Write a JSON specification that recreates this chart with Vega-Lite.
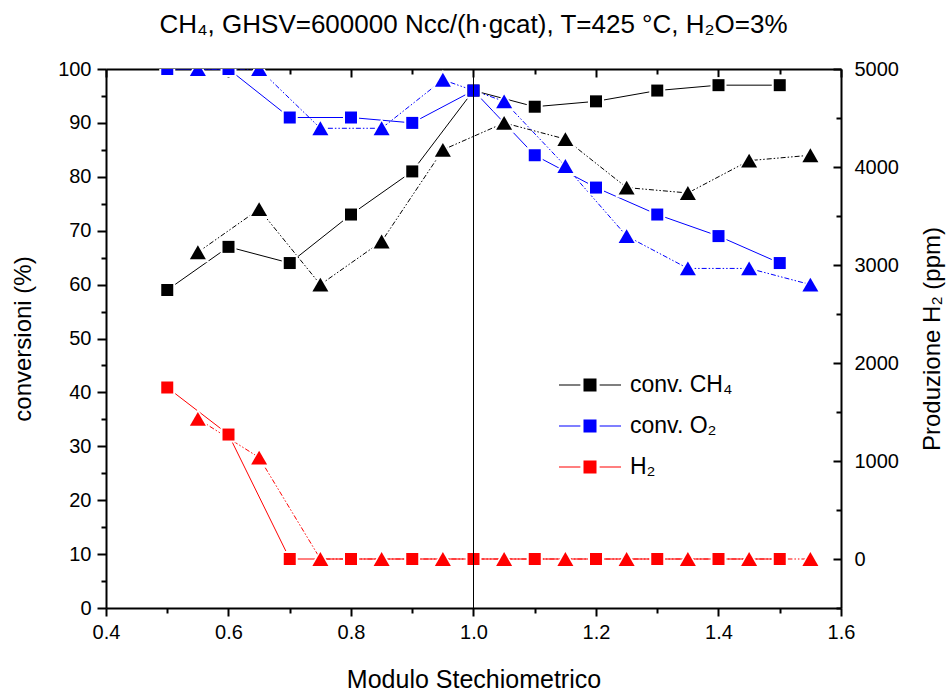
{
  "$schema": "https://vega.github.io/schema/vega-lite/v6.json",
  "width": 735,
  "height": 539,
  "autosize": {"type": "none"},
  "padding": {"left": 106, "top": 69, "right": 106, "bottom": 84},
  "background": "white",
  "title": {
    "text": "CH₄, GHSV=600000 Ncc/(h·gcat), T=425 °C, H₂O=3%",
    "font": "Liberation Sans",
    "fontSize": 26,
    "fontWeight": "normal",
    "color": "black",
    "anchor": "middle",
    "offset": 21
  },
  "config": {
    "view": {"stroke": null},
    "font": "Liberation Sans",
    "axis": {
      "grid": false,
      "domainColor": "black",
      "domainWidth": 2,
      "tickColor": "black",
      "tickWidth": 2,
      "labelColor": "black",
      "titleColor": "black",
      "labelFont": "Liberation Sans",
      "titleFont": "Liberation Sans",
      "labelFontSize": 20,
      "titleFontSize": 24,
      "titleFontWeight": "normal"
    }
  },
  "data": {
    "values": [
      {"serie": "conv. CH₄", "simbolo": "quadrato", "ms": 0.5, "valore": 59},
      {"serie": "conv. CH₄", "simbolo": "quadrato", "ms": 0.6, "valore": 67},
      {"serie": "conv. CH₄", "simbolo": "quadrato", "ms": 0.7, "valore": 64},
      {"serie": "conv. CH₄", "simbolo": "quadrato", "ms": 0.8, "valore": 73},
      {"serie": "conv. CH₄", "simbolo": "quadrato", "ms": 0.9, "valore": 81},
      {"serie": "conv. CH₄", "simbolo": "quadrato", "ms": 1.0, "valore": 96},
      {"serie": "conv. CH₄", "simbolo": "quadrato", "ms": 1.1, "valore": 93},
      {"serie": "conv. CH₄", "simbolo": "quadrato", "ms": 1.2, "valore": 94},
      {"serie": "conv. CH₄", "simbolo": "quadrato", "ms": 1.3, "valore": 96},
      {"serie": "conv. CH₄", "simbolo": "quadrato", "ms": 1.4, "valore": 97},
      {"serie": "conv. CH₄", "simbolo": "quadrato", "ms": 1.5, "valore": 97},
      {"serie": "conv. CH₄", "simbolo": "triangolo", "ms": 0.55, "valore": 66},
      {"serie": "conv. CH₄", "simbolo": "triangolo", "ms": 0.65, "valore": 74},
      {"serie": "conv. CH₄", "simbolo": "triangolo", "ms": 0.75, "valore": 60},
      {"serie": "conv. CH₄", "simbolo": "triangolo", "ms": 0.85, "valore": 68},
      {"serie": "conv. CH₄", "simbolo": "triangolo", "ms": 0.95, "valore": 85},
      {"serie": "conv. CH₄", "simbolo": "triangolo", "ms": 1.05, "valore": 90},
      {"serie": "conv. CH₄", "simbolo": "triangolo", "ms": 1.15, "valore": 87},
      {"serie": "conv. CH₄", "simbolo": "triangolo", "ms": 1.25, "valore": 78},
      {"serie": "conv. CH₄", "simbolo": "triangolo", "ms": 1.35, "valore": 77},
      {"serie": "conv. CH₄", "simbolo": "triangolo", "ms": 1.45, "valore": 83},
      {"serie": "conv. CH₄", "simbolo": "triangolo", "ms": 1.55, "valore": 84},
      {"serie": "conv. O₂", "simbolo": "quadrato", "ms": 0.5, "valore": 100},
      {"serie": "conv. O₂", "simbolo": "quadrato", "ms": 0.6, "valore": 100},
      {"serie": "conv. O₂", "simbolo": "quadrato", "ms": 0.7, "valore": 91},
      {"serie": "conv. O₂", "simbolo": "quadrato", "ms": 0.8, "valore": 91},
      {"serie": "conv. O₂", "simbolo": "quadrato", "ms": 0.9, "valore": 90},
      {"serie": "conv. O₂", "simbolo": "quadrato", "ms": 1.0, "valore": 96},
      {"serie": "conv. O₂", "simbolo": "quadrato", "ms": 1.1, "valore": 84},
      {"serie": "conv. O₂", "simbolo": "quadrato", "ms": 1.2, "valore": 78},
      {"serie": "conv. O₂", "simbolo": "quadrato", "ms": 1.3, "valore": 73},
      {"serie": "conv. O₂", "simbolo": "quadrato", "ms": 1.4, "valore": 69},
      {"serie": "conv. O₂", "simbolo": "quadrato", "ms": 1.5, "valore": 64},
      {"serie": "conv. O₂", "simbolo": "triangolo", "ms": 0.55, "valore": 100},
      {"serie": "conv. O₂", "simbolo": "triangolo", "ms": 0.65, "valore": 100},
      {"serie": "conv. O₂", "simbolo": "triangolo", "ms": 0.75, "valore": 89},
      {"serie": "conv. O₂", "simbolo": "triangolo", "ms": 0.85, "valore": 89},
      {"serie": "conv. O₂", "simbolo": "triangolo", "ms": 0.95, "valore": 98},
      {"serie": "conv. O₂", "simbolo": "triangolo", "ms": 1.05, "valore": 94},
      {"serie": "conv. O₂", "simbolo": "triangolo", "ms": 1.15, "valore": 82},
      {"serie": "conv. O₂", "simbolo": "triangolo", "ms": 1.25, "valore": 69},
      {"serie": "conv. O₂", "simbolo": "triangolo", "ms": 1.35, "valore": 63},
      {"serie": "conv. O₂", "simbolo": "triangolo", "ms": 1.45, "valore": 63},
      {"serie": "conv. O₂", "simbolo": "triangolo", "ms": 1.55, "valore": 60},
      {"serie": "H₂", "simbolo": "quadrato", "ms": 0.5, "valore": 1750},
      {"serie": "H₂", "simbolo": "quadrato", "ms": 0.6, "valore": 1270},
      {"serie": "H₂", "simbolo": "quadrato", "ms": 0.7, "valore": 0},
      {"serie": "H₂", "simbolo": "quadrato", "ms": 0.8, "valore": 0},
      {"serie": "H₂", "simbolo": "quadrato", "ms": 0.9, "valore": 0},
      {"serie": "H₂", "simbolo": "quadrato", "ms": 1.0, "valore": 0},
      {"serie": "H₂", "simbolo": "quadrato", "ms": 1.1, "valore": 0},
      {"serie": "H₂", "simbolo": "quadrato", "ms": 1.2, "valore": 0},
      {"serie": "H₂", "simbolo": "quadrato", "ms": 1.3, "valore": 0},
      {"serie": "H₂", "simbolo": "quadrato", "ms": 1.4, "valore": 0},
      {"serie": "H₂", "simbolo": "quadrato", "ms": 1.5, "valore": 0},
      {"serie": "H₂", "simbolo": "triangolo", "ms": 0.55, "valore": 1430},
      {"serie": "H₂", "simbolo": "triangolo", "ms": 0.65, "valore": 1035},
      {"serie": "H₂", "simbolo": "triangolo", "ms": 0.75, "valore": 0},
      {"serie": "H₂", "simbolo": "triangolo", "ms": 0.85, "valore": 0},
      {"serie": "H₂", "simbolo": "triangolo", "ms": 0.95, "valore": 0},
      {"serie": "H₂", "simbolo": "triangolo", "ms": 1.05, "valore": 0},
      {"serie": "H₂", "simbolo": "triangolo", "ms": 1.15, "valore": 0},
      {"serie": "H₂", "simbolo": "triangolo", "ms": 1.25, "valore": 0},
      {"serie": "H₂", "simbolo": "triangolo", "ms": 1.35, "valore": 0},
      {"serie": "H₂", "simbolo": "triangolo", "ms": 1.45, "valore": 0},
      {"serie": "H₂", "simbolo": "triangolo", "ms": 1.55, "valore": 0}
    ]
  },
  "layer": [
    {
      "transform": [{"filter": "datum.serie !== 'H₂'"}],
      "encoding": {
        "x": {
          "field": "ms",
          "type": "quantitative",
          "scale": {"domain": [0.4, 1.6], "nice": false, "zero": false},
          "axis": {
            "orient": "bottom",
            "title": "Modulo Stechiometrico",
            "titleFontSize": 25,
            "titlePadding": 25,
            "values": [0.4, 0.5, 0.6, 0.7, 0.8, 0.9, 1.0, 1.1, 1.2, 1.3, 1.4, 1.5, 1.6],
            "format": ".1f",
            "labelExpr": "round(datum.value * 10) % 2 === 0 ? datum.label : ''",
            "tickSize": {"condition": {"test": "round(datum.value * 10) % 2 === 0", "value": 8}, "value": 5},
            "labelPadding": 6,
            "labelFlush": false
          }
        },
        "y": {
          "field": "valore",
          "type": "quantitative",
          "scale": {"domain": [0, 100], "nice": false, "zero": false},
          "axis": {
            "orient": "left",
            "title": "conversioni (%)",
            "titlePadding": 22,
            "values": [0, 5, 10, 15, 20, 25, 30, 35, 40, 45, 50, 55, 60, 65, 70, 75, 80, 85, 90, 95, 100],
            "labelExpr": "datum.value % 10 === 0 ? datum.label : ''",
            "tickSize": {"condition": {"test": "datum.value % 10 === 0", "value": 9}, "value": 5},
            "labelPadding": 6,
            "labelFlush": false
          }
        }
      },
      "layer": [
        {
          "transform": [{"filter": "datum.simbolo === 'quadrato'"}],
          "mark": {"type": "line", "strokeWidth": 1, "clip": true},
          "encoding": {
            "stroke": {"field": "serie", "type": "nominal", "scale": {"domain": ["H₂", "conv. CH₄", "conv. O₂"], "range": ["#ff0000", "#000000", "#0000ff"]}, "legend": null}
          }
        },
        {
          "transform": [{"filter": "datum.simbolo === 'triangolo'"}],
          "mark": {"type": "line", "strokeWidth": 1, "strokeDash": [5, 2, 1.5, 2, 1.5, 2], "clip": true},
          "encoding": {
            "stroke": {"field": "serie", "type": "nominal", "scale": {"domain": ["H₂", "conv. CH₄", "conv. O₂"], "range": ["#ff0000", "#000000", "#0000ff"]}, "legend": null}
          }
        },
        {
          "transform": [{"filter": "datum.simbolo === 'quadrato'"}],
          "mark": {"type": "point", "shape": "square", "size": 256, "filled": true, "color": "white", "opacity": 1, "clip": true}
        },
        {
          "transform": [{"filter": "datum.simbolo === 'triangolo'"}],
          "mark": {"type": "point", "shape": "triangle-up", "size": 529, "filled": true, "color": "white", "opacity": 1, "clip": true}
        },
        {
          "transform": [{"filter": "datum.simbolo === 'triangolo'"}],
          "mark": {"type": "point", "shape": "triangle-up", "size": 256, "filled": true, "opacity": 1, "strokeWidth": 0, "clip": true},
          "encoding": {
            "fill": {"field": "serie", "type": "nominal", "scale": {"domain": ["conv. O₂", "H₂", "conv. CH₄"], "range": ["#0000ff", "#ff0000", "#000000"]}, "legend": null}
          }
        },
        {
          "transform": [{"filter": "datum.simbolo === 'quadrato'"}],
          "mark": {"type": "point", "shape": "square", "size": 144, "filled": true, "opacity": 1, "strokeWidth": 0, "clip": true},
          "encoding": {
            "color": {
              "field": "serie",
              "type": "nominal",
              "scale": {"domain": ["conv. CH₄", "conv. O₂", "H₂"], "range": ["#000000", "#0000ff", "#ff0000"]},
              "legend": {
                "title": null,
                "orient": "none",
                "legendX": 453,
                "legendY": 302,
                "symbolType": "M-1,-0.02H-0.31V0.02H-1ZM-0.21,-0.21H0.21V0.21H-0.21ZM0.31,-0.02H1V0.02H0.31Z",
                "symbolSize": 3844,
                "symbolStrokeWidth": 0,
                "symbolOpacity": 1,
                "labelFont": "Liberation Sans",
                "labelFontSize": 23,
                "labelColor": "black",
                "labelOffset": 9,
                "clipHeight": 28,
                "rowPadding": 13,
                "padding": 0
              }
            }
          }
        }
      ]
    },
    {
      "transform": [{"filter": "datum.serie === 'H₂'"}],
      "encoding": {
        "x": {
          "field": "ms",
          "type": "quantitative",
          "scale": {"domain": [0.4, 1.6], "nice": false, "zero": false},
          "axis": {
            "orient": "top",
            "title": null,
            "labels": false,
            "values": [0.4, 0.5, 0.6, 0.7, 0.8, 0.9, 1.0, 1.1, 1.2, 1.3, 1.4, 1.5, 1.6],
            "tickSize": {"condition": {"test": "round(datum.value * 10) % 2 === 0", "value": -8}, "value": -5}
          }
        },
        "y": {
          "field": "valore",
          "type": "quantitative",
          "scale": {"domain": [-500, 5000], "nice": false, "zero": false},
          "axis": {
            "orient": "right",
            "title": "Produzione H₂ (ppm)",
            "titleAngle": 270,
            "titlePadding": 46,
            "values": [-500, 0, 500, 1000, 1500, 2000, 2500, 3000, 3500, 4000, 4500, 5000],
            "labelExpr": "datum.value >= 0 && datum.value % 1000 === 0 ? datum.label : ''",
            "format": "d",
            "tickSize": {"condition": {"test": "datum.value % 1000 === 0", "value": -8}, "value": -5},
            "labelPadding": 21,
            "labelFlush": false
          }
        }
      },
      "layer": [
        {
          "transform": [{"filter": "datum.simbolo === 'quadrato'"}],
          "mark": {"type": "line", "strokeWidth": 1, "clip": true},
          "encoding": {
            "stroke": {"field": "serie", "type": "nominal", "scale": {"domain": ["H₂", "conv. CH₄", "conv. O₂"], "range": ["#ff0000", "#000000", "#0000ff"]}, "legend": null}
          }
        },
        {
          "transform": [{"filter": "datum.simbolo === 'triangolo'"}],
          "mark": {"type": "line", "strokeWidth": 1, "strokeDash": [5, 2, 1.5, 2, 1.5, 2], "clip": true},
          "encoding": {
            "stroke": {"field": "serie", "type": "nominal", "scale": {"domain": ["H₂", "conv. CH₄", "conv. O₂"], "range": ["#ff0000", "#000000", "#0000ff"]}, "legend": null}
          }
        },
        {
          "transform": [{"filter": "datum.simbolo === 'quadrato'"}],
          "mark": {"type": "point", "shape": "square", "size": 256, "filled": true, "color": "white", "opacity": 1, "clip": true}
        },
        {
          "transform": [{"filter": "datum.simbolo === 'triangolo'"}],
          "mark": {"type": "point", "shape": "triangle-up", "size": 529, "filled": true, "color": "white", "opacity": 1, "clip": true}
        },
        {
          "transform": [{"filter": "datum.simbolo === 'quadrato'"}],
          "mark": {"type": "point", "shape": "square", "size": 144, "filled": true, "opacity": 1, "strokeWidth": 0, "clip": true},
          "encoding": {
            "fill": {"field": "serie", "type": "nominal", "scale": {"domain": ["conv. O₂", "H₂", "conv. CH₄"], "range": ["#0000ff", "#ff0000", "#000000"]}, "legend": null}
          }
        },
        {
          "transform": [{"filter": "datum.simbolo === 'triangolo'"}],
          "mark": {"type": "point", "shape": "triangle-up", "size": 256, "filled": true, "opacity": 1, "strokeWidth": 0, "clip": true},
          "encoding": {
            "fill": {"field": "serie", "type": "nominal", "scale": {"domain": ["conv. O₂", "H₂", "conv. CH₄"], "range": ["#0000ff", "#ff0000", "#000000"]}, "legend": null}
          }
        }
      ]
    },
    {
      "mark": {"type": "rule", "color": "black", "strokeWidth": 1},
      "encoding": {
        "x": {"datum": 1.0, "type": "quantitative", "axis": null}
      }
    }
  ],
  "resolve": {
    "scale": {"y": "independent"},
    "axis": {"x": "independent", "y": "independent"}
  }
}
